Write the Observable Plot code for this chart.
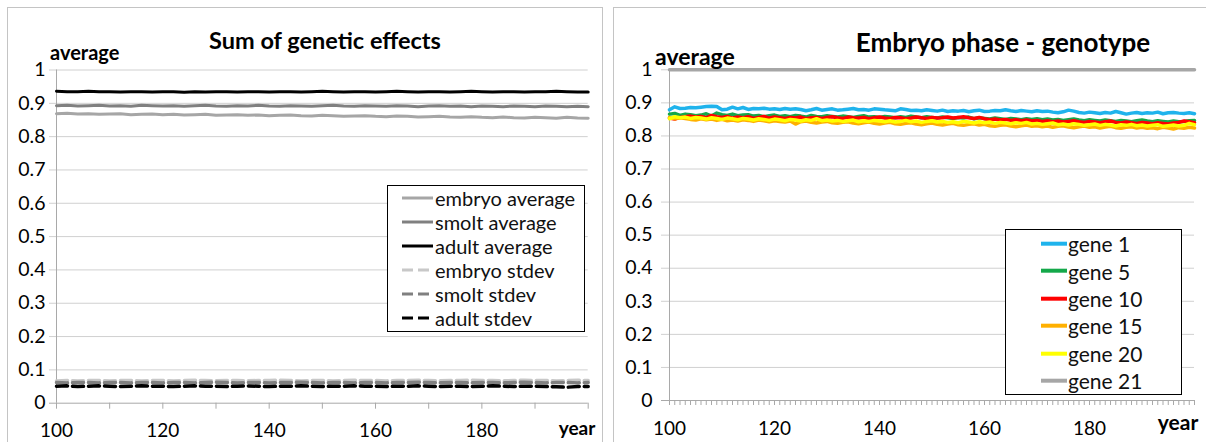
<!DOCTYPE html>
<html>
<head>
<meta charset="utf-8">
<script src="https://cdn.jsdelivr.net/npm/d3@7"></script>
<script src="https://cdn.jsdelivr.net/npm/@observablehq/plot@0.6"></script>
<style>
  body { margin: 0; background: #fff; font-family: Lato, "Open Sans", sans-serif; }
  #wrap { position: relative; width: 1206px; height: 442px; overflow: hidden; background: #fff; }
  .panel { position: absolute; border: 1px solid #c4c4c4; pointer-events: none; }
  .title { position: absolute; font-weight: bold; color: #000; white-space: nowrap; transform: translate(-50%, -50%); }
  .avg { position: absolute; font-weight: bold; color: #000; white-space: nowrap; transform: translateY(-50%); }
  .legend { position: absolute; background: #fff; border: 1.5px solid #000; box-sizing: border-box; }
  .legend .row { position: absolute; left: 0; right: 0; display: flex; align-items: center; white-space: nowrap; color: #111; }
  .legend svg { display: block; flex: none; }
</style>
</head>
<body>
<div id="wrap"></div>
<script>
// ---------- data ----------
const yearsLeft = d3.range(100, 201, 2);   // 51 sampled years, left chart
const yearsRight = d3.range(100, 201, 1);  // 101 years, right chart

const embryoAverage = [
  .869,.870,.868,.869,.867,.868,.869,.866,.867,.868,
  .866,.867,.865,.866,.867,.864,.865,.866,.864,.865,
  .863,.864,.865,.863,.862,.864,.863,.861,.862,.863,
  .861,.860,.862,.861,.859,.860,.861,.859,.858,.860,
  .858,.857,.859,.857,.856,.858,.857,.855,.858,.856,
  .855];
const smoltAverage = [
  .893,.894,.892,.893,.894,.892,.893,.891,.894,.893,
  .892,.893,.891,.893,.894,.892,.891,.893,.892,.894,
  .892,.891,.893,.892,.891,.893,.894,.892,.891,.893,
  .892,.891,.893,.892,.890,.892,.893,.891,.892,.890,
  .892,.891,.890,.892,.891,.890,.892,.891,.890,.891,
  .890];
const adultAverage = [
  .936,.935,.935,.936,.935,.935,.934,.935,.935,.934,
  .935,.935,.933,.935,.934,.935,.935,.934,.935,.935,
  .934,.935,.935,.934,.935,.936,.935,.934,.935,.935,
  .934,.935,.936,.935,.934,.935,.935,.934,.935,.936,
  .935,.934,.935,.935,.934,.935,.935,.936,.935,.934,
  .934];
const embryoStdev = [
  .067,.068,.067,.068,.068,.067,.068,.068,.067,.068,
  .068,.067,.068,.069,.068,.067,.068,.068,.067,.068,
  .068,.069,.068,.067,.068,.068,.067,.068,.069,.068,
  .068,.067,.068,.068,.069,.068,.067,.068,.068,.069,
  .068,.068,.067,.068,.069,.068,.068,.067,.068,.069,
  .068];
const smoltStdev = [
  .062,.061,.062,.062,.061,.062,.062,.061,.062,.062,
  .061,.062,.062,.061,.062,.063,.062,.061,.062,.062,
  .061,.062,.062,.063,.062,.061,.062,.062,.061,.062,
  .062,.061,.062,.062,.063,.062,.061,.062,.062,.061,
  .062,.062,.061,.062,.063,.062,.061,.062,.062,.061,
  .062];
const adultStdev = [
  .051,.052,.050,.051,.052,.051,.050,.051,.052,.051,
  .051,.050,.051,.052,.051,.051,.050,.051,.052,.051,
  .050,.051,.051,.052,.051,.050,.051,.051,.052,.051,
  .051,.050,.051,.051,.052,.051,.050,.051,.051,.050,
  .051,.052,.051,.050,.051,.051,.050,.049,.048,.050,
  .050];

const gene1 = [
  .879,.888,.883,.884,.886,.885,.887,.889,.890,.889,
  .879,.881,.887,.882,.886,.880,.883,.882,.884,.881,
  .882,.880,.883,.881,.882,.880,.876,.879,.883,.878,
  .880,.882,.878,.879,.881,.883,.879,.880,.878,.882,
  .881,.879,.878,.876,.882,.880,.877,.878,.876,.879,
  .877,.875,.878,.874,.876,.875,.877,.873,.876,.878,
  .874,.875,.877,.876,.879,.876,.874,.877,.875,.873,
  .876,.874,.875,.872,.870,.873,.878,.875,.871,.869,
  .872,.870,.868,.871,.869,.874,.870,.866,.869,.871,
  .868,.870,.869,.872,.867,.870,.871,.869,.868,.870,
  .867];
const gene5 = [
  .866,.868,.862,.866,.864,.861,.863,.867,.860,.869,
  .864,.862,.866,.861,.863,.864,.860,.862,.858,.861,
  .863,.859,.861,.858,.862,.860,.857,.862,.859,.858,
  .861,.859,.857,.860,.858,.856,.859,.861,.857,.858,
  .856,.859,.857,.855,.858,.856,.860,.857,.855,.858,
  .856,.854,.857,.855,.853,.856,.854,.857,.852,.855,
  .853,.851,.854,.852,.850,.853,.851,.849,.852,.850,
  .852,.849,.851,.848,.850,.847,.849,.851,.848,.846,
  .849,.847,.845,.848,.846,.844,.847,.845,.843,.846,
  .848,.845,.843,.846,.844,.842,.845,.843,.844,.846,
  .847];
const gene10 = [
  .854,.851,.856,.858,.860,.857,.859,.855,.862,.858,
  .856,.859,.854,.857,.855,.858,.853,.856,.859,.854,
  .857,.855,.853,.856,.854,.857,.852,.855,.856,.853,
  .856,.858,.855,.853,.857,.855,.854,.856,.852,.855,
  .857,.854,.853,.856,.855,.852,.854,.857,.855,.853,
  .856,.854,.855,.857,.854,.856,.858,.855,.853,.856,
  .852,.849,.851,.848,.850,.847,.849,.846,.848,.845,
  .847,.844,.846,.843,.845,.842,.844,.846,.843,.841,
  .844,.842,.840,.843,.845,.841,.839,.842,.840,.838,
  .841,.839,.837,.840,.838,.836,.839,.841,.845,.843,
  .840];
const gene15 = [
  .856,.852,.855,.853,.850,.848,.852,.849,.851,.847,
  .850,.846,.848,.845,.849,.847,.844,.848,.846,.843,
  .846,.844,.842,.845,.836,.843,.845,.841,.839,.842,
  .844,.840,.838,.841,.843,.839,.837,.840,.842,.838,
  .836,.839,.841,.837,.835,.838,.840,.836,.834,.837,
  .839,.835,.833,.836,.838,.834,.832,.835,.837,.833,
  .835,.831,.829,.832,.834,.830,.828,.831,.833,.829,
  .831,.828,.830,.826,.829,.831,.827,.825,.828,.830,
  .826,.828,.824,.827,.829,.825,.823,.826,.828,.824,
  .826,.823,.825,.822,.826,.824,.821,.825,.823,.826,
  .824];
const gene20 = [
  .852,.858,.855,.857,.853,.856,.854,.851,.855,.853,
  .850,.854,.852,.849,.853,.851,.848,.852,.850,.847,
  .851,.849,.846,.850,.848,.845,.849,.847,.852,.846,
  .848,.845,.847,.844,.846,.848,.843,.846,.844,.847,
  .845,.843,.846,.842,.844,.847,.843,.845,.841,.844,
  .846,.842,.844,.841,.843,.840,.844,.842,.839,.843,
  .840,.842,.838,.841,.839,.837,.840,.838,.841,.836,
  .838,.835,.837,.839,.834,.836,.833,.837,.835,.832,
  .834,.836,.832,.835,.833,.830,.834,.832,.835,.831,
  .833,.830,.832,.834,.829,.831,.833,.830,.832,.838,
  .834];
const gene21 = [
  1,1,1,1,1,1,1,1,1,1, 1,1,1,1,1,1,1,1,1,1,
  1,1,1,1,1,1,1,1,1,1, 1,1,1,1,1,1,1,1,1,1,
  1,1,1,1,1,1,1,1,1,1, 1,1,1,1,1,1,1,1,1,1,
  1,1,1,1,1,1,1,1,1,1, 1,1,1,1,1,1,1,1,1,1,
  1,1,1,1,1,1,1,1,1,1, 1,1,1,1,1,1,1,1,1,1,
  1];

const yTicks = [0, 0.1, 0.2, 0.3, 0.4, 0.5, 0.6, 0.7, 0.8, 0.9, 1];
const yTickLabels = ["0", "0.1", "0.2", "0.3", "0.4", "0.5", "0.6", "0.7", "0.8", "0.9", "1"];
const xLabelYears = [100, 120, 140, 160, 180];
const xTicksLeft = d3.range(100, 201, 10);
const xTicksRight = d3.range(100, 201, 1);

const leftTitle = "Sum of genetic effects";
const rightTitle = "Embryo phase - genotype";
const yAxisTitle = "average";
const xAxisTitle = "year";

const leftSeries = [
  {name: "embryo average", values: embryoAverage, color: "#a6a6a6", dash: null},
  {name: "smolt average",  values: smoltAverage,  color: "#808080", dash: null},
  {name: "adult average",  values: adultAverage,  color: "#000000", dash: null},
  {name: "embryo stdev",   values: embryoStdev,   color: "#c8c8c8", dash: "11,5"},
  {name: "smolt stdev",    values: smoltStdev,    color: "#808080", dash: "11,5"},
  {name: "adult stdev",    values: adultStdev,    color: "#000000", dash: "11,5"}
];
const rightSeries = [
  {name: "gene 1",  values: gene1,  color: "#1fb3ec"},
  {name: "gene 5",  values: gene5,  color: "#14a84a"},
  {name: "gene 10", values: gene10, color: "#ff0000"},
  {name: "gene 15", values: gene15, color: "#ffb000"},
  {name: "gene 20", values: gene20, color: "#ffff00"},
  {name: "gene 21", values: gene21, color: "#a6a6a6"}
];

// ---------- helpers ----------
const rows = (xs, ys) => xs.map((x, i) => ({year: x, value: ys[i]}));
const FONT = "Lato, 'Open Sans', sans-serif";
const wrap = document.getElementById("wrap");

function place(el, left, top) {
  el.style.position = "absolute";
  el.style.left = left + "px";
  el.style.top = top + "px";
  wrap.appendChild(el);
}

function makePlot({width, height, ml, mr, mt, mb, xTicks, tickSize, gridExt, labelDx, series, lineWidth}) {
  const labelIdx = yTicks.map((d, i) => i);
  return Plot.plot({
    width, height,
    marginLeft: ml, marginRight: mr, marginTop: mt, marginBottom: mb,
    x: {domain: [100, 200], axis: null, label: null},
    y: {domain: [0, 1], axis: null, label: null},
    style: {fontFamily: FONT, fontSize: "19px", color: "#000", background: "transparent", overflow: "visible"},
    marks: [
      Plot.ruleY(yTicks.filter(d => d > 0), {stroke: "#d0d0d0", strokeWidth: 1, insetLeft: -gridExt}),
      Plot.ruleY([0], {stroke: "#a9a9a9", strokeWidth: 1, insetLeft: -gridExt}),
      Plot.ruleX([100], {stroke: "#a9a9a9", strokeWidth: 1}),
      Plot.axisX({ticks: xTicks, tickSize, tickFormat: () => "", stroke: "#a9a9a9", label: null}),
      Plot.text(labelIdx, {x: 100, y: i => yTicks[i], text: i => yTickLabels[i], textAnchor: "end", dx: labelDx, lineAnchor: "middle", fontSize: 19.5, fill: "#000"}),
      Plot.text(xLabelYears, {x: d => d, y: 0, text: d => String(d), dy: 28, lineAnchor: "middle", fontSize: 19, fill: "#000"}),
      ...series.map(s => Plot.line(rows(s.years, s.values), {
        x: "year", y: "value", stroke: s.color, strokeWidth: s.dash ? 3.5 : lineWidth,
        strokeDasharray: s.dash || undefined, strokeLinejoin: "round"
      }))
    ]
  });
}

// ---------- left chart ----------
const leftPlot = makePlot({
  width: 600, height: 442, ml: 56, mr: 12.3, mt: 69.5, mb: 39.3,
  xTicks: xTicksLeft, tickSize: 6, gridExt: 7, labelDx: -11,
  series: leftSeries.map(s => ({...s, years: yearsLeft})), lineWidth: 3
});
place(leftPlot, 0, 0);

// ---------- right chart ----------
const rightPlot = makePlot({
  width: 600, height: 442, ml: 63, mr: 12, mt: 69.3, mb: 42,
  xTicks: xTicksRight, tickSize: 5, gridExt: 8, labelDx: -17,
  series: rightSeries.map(s => ({...s, years: yearsRight, dash: null})), lineWidth: 3.5
});
place(rightPlot, 606, 0);

// ---------- panel frames ----------
const p1 = document.createElement("div"); p1.className = "panel";
p1.style.left = "7px"; p1.style.top = "7px"; p1.style.width = "594px"; p1.style.height = "450px";
wrap.appendChild(p1);
const p2 = document.createElement("div"); p2.className = "panel";
p2.style.left = "613px"; p2.style.top = "7px"; p2.style.width = "620px"; p2.style.height = "450px";
wrap.appendChild(p2);

// ---------- titles & axis titles ----------
function addText(cls, text, left, top, size) {
  const d = document.createElement("div");
  d.className = cls; d.textContent = text;
  d.style.left = left + "px"; d.style.top = top + "px";
  if (size) d.style.fontSize = size + "px";
  wrap.appendChild(d);
  return d;
}
addText("title", leftTitle, 325, 40, 23.5);
addText("title", rightTitle, 1003, 42, 26);
addText("avg", yAxisTitle, 50, 52, 20);
addText("avg", yAxisTitle, 655, 56, 23);
addText("title", xAxisTitle, 577, 427, 19);
addText("title", xAxisTitle, 1178, 421, 21);

// ---------- legends ----------
function legend(series, {left, top, width, height, rowTop, rowH, sx, sw, tx, fontSize, lw}) {
  const box = document.createElement("div");
  box.className = "legend";
  Object.assign(box.style, {left: left + "px", top: top + "px", width: width + "px", height: height + "px"});
  series.forEach((s, i) => {
    const r = document.createElement("div");
    r.className = "row";
    Object.assign(r.style, {top: (rowTop + i * rowH) + "px", height: rowH + "px", fontSize: fontSize + "px"});
    const svg = document.createElementNS("http://www.w3.org/2000/svg", "svg");
    svg.setAttribute("width", tx); svg.setAttribute("height", rowH);
    const ln = document.createElementNS("http://www.w3.org/2000/svg", "line");
    ln.setAttribute("x1", sx); ln.setAttribute("x2", sx + sw);
    ln.setAttribute("y1", rowH / 2); ln.setAttribute("y2", rowH / 2);
    ln.setAttribute("stroke", s.color); ln.setAttribute("stroke-width", lw);
    if (s.dash) ln.setAttribute("stroke-dasharray", "11,5");
    svg.appendChild(ln);
    r.appendChild(svg);
    const t = document.createElement("span");
    t.textContent = s.name;
    r.appendChild(t);
    box.appendChild(r);
  });
  wrap.appendChild(box);
}
legend(leftSeries, {left: 387, top: 185, width: 198, height: 147, rowTop: 0, rowH: 24, sx: 14, sw: 31, tx: 47, fontSize: 20, lw: 3});
legend(rightSeries, {left: 1005, top: 229, width: 177, height: 166, rowTop: 0, rowH: 27.4, sx: 35, sw: 26, tx: 62, fontSize: 21, lw: 4});
</script>
</body>
</html>
